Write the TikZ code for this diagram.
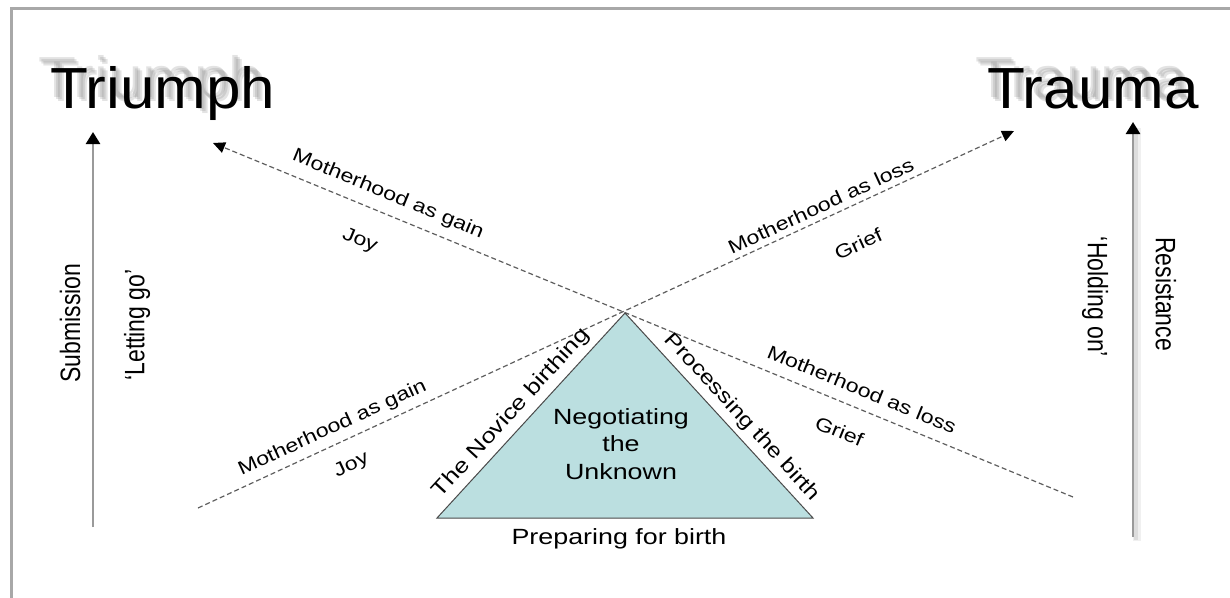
\documentclass[tikz,border=0pt]{standalone}
\usepackage{fontspec}
\setmainfont{Liberation Sans}
\usepackage{graphicx}
\usetikzlibrary{arrows.meta}
\definecolor{framecol}{HTML}{A8A8A8}
\definecolor{axiscol}{HTML}{9A9A9A}
\definecolor{dashcol}{HTML}{5E5E5E}
\definecolor{trifill}{HTML}{BBDFE0}
\definecolor{triedge}{HTML}{4A4A4A}
\newcommand{\hs}[1]{\scalebox{1.22}[1]{#1}}
\newcommand{\vs}[1]{\scalebox{1}[1.22]{#1}}
\newcommand{\ts}[1]{\scalebox{1.07}[1]{#1}}
\begin{document}
\begin{tikzpicture}[x=1pt,y=-1pt,
 title/.style={font=\fontsize{58}{60}\selectfont, inner sep=0pt, anchor=base west},
 titleshadow/.style={title, text=black!50, opacity=0.22},
 mlabel/.style={font=\fontsize{19}{21}\selectfont, inner sep=0pt},
 blabel/.style={font=\fontsize{22}{27.5}\selectfont, inner sep=0pt},
 elabel/.style={font=\fontsize{21}{23}\selectfont, inner sep=0pt},
 vlabel/.style={font=\fontsize{23}{25}\selectfont, inner sep=0pt},
 dashline/.style={draw=dashcol, line width=1.2pt, dash pattern=on 5pt off 3pt, -{Triangle[length=12pt,width=11pt,color=black]}},
 axisline/.style={draw=axiscol, line width=2.5pt, -{Triangle[length=12pt,width=14pt,color=black]}},
]
\useasboundingbox (0,0) rectangle (1230,597);
% frame
\draw[framecol, line width=3pt] (11,600) -- (11,8.5) -- (1235,8.5);

% coordinates
\coordinate (A1) at (1073,497);
\coordinate (A2) at (213,143);
\coordinate (B1) at (198,508);
\coordinate (B2) at (1014,131);
\coordinate (T1) at (437,518);
\coordinate (T2) at (625,313);
\coordinate (T3) at (813,518);
\coordinate (L1) at (93,527);
\coordinate (L2) at (93,132);
\coordinate (R1) at (1133,537);
\coordinate (R2) at (1133,122);

% title shadows
\foreach \dx/\dy [count=\i] in {-10/-9, -12/-11, -8/-7} {
  \node[titleshadow] (shA\i) at (50+\dx,108+\dy) {\ts{Triumph}};
  \node[titleshadow] (shB\i) at (987+\dx,108+\dy) {\ts{Trauma}};
}
\node[title] (triumph) at (50,108) {\ts{Triumph}};
\node[title] (trauma) at (987,108) {\ts{Trauma}};

% dashed lines
\draw[dashline] (A1) -- (A2);
\draw[dashline] (B1) -- (B2);

% triangle
\draw[triedge, fill=trifill, line width=1pt] (T1) -- (T2) -- (T3) -- cycle;

% line labels
\path (A2) -- (A1)
  node[mlabel, pos=0.195, sloped, above=10pt] (gainUp) {\hs{Motherhood as gain}}
  node[mlabel, pos=0.186, sloped, below=26pt] (joyUp) {\hs{Joy}}
  node[mlabel, pos=0.746, sloped, above=12pt] (lossDown) {\hs{Motherhood as loss}}
  node[mlabel, pos=0.741, sloped, below=21pt] (griefDown) {\hs{Grief}};
\path (B1) -- (B2)
  node[mlabel, pos=0.173, sloped, above=7pt] (gainDown) {\hs{Motherhood as gain}}
  node[mlabel, pos=0.175, sloped, below=17pt] (joyDown) {\hs{Joy}}
  node[mlabel, pos=0.77, sloped, above=6pt] (lossUp) {\hs{Motherhood as loss}}
  node[mlabel, pos=0.79, sloped, below=30pt] (griefUp) {\hs{Grief}};

% triangle labels
\path (T1) -- (T2) node[elabel, pos=0.459, sloped, above=6pt] (novice) {\hs{The Novice birthing}};
\path (T2) -- (T3) node[elabel, font=\fontsize{20.3}{22}\selectfont, pos=0.56, sloped, above=6pt] (processing) {\hs{Processing the birth}};
\node[blabel, align=center] (negot) at (621,444) {\hs{Negotiating}\\\hs{the}\\\hs{Unknown}};
\node[blabel] (prep) at (619,539) {\hs{Preparing for birth}};

% vertical axes
\draw[black, opacity=0.06, line width=8pt] (1137,541) -- (1137,128);
\draw[black, opacity=0.08, line width=4pt] (1136,540) -- (1136,128);
\draw[axisline] (L1) -- (L2);
\draw[axisline] (R1) -- (R2);

\node[vlabel, rotate=90] (subm) at (70,323) {\vs{Submission}};
\node[vlabel, rotate=90] (letgo) at (137,325) {\vs{‘Letting go’}};
\node[vlabel, rotate=-90] (hold) at (1095,297) {\vs{‘Holding on’}};
\node[vlabel, rotate=-90] (resist) at (1166,294) {\vs{Resistance}};
\end{tikzpicture}
\end{document}
